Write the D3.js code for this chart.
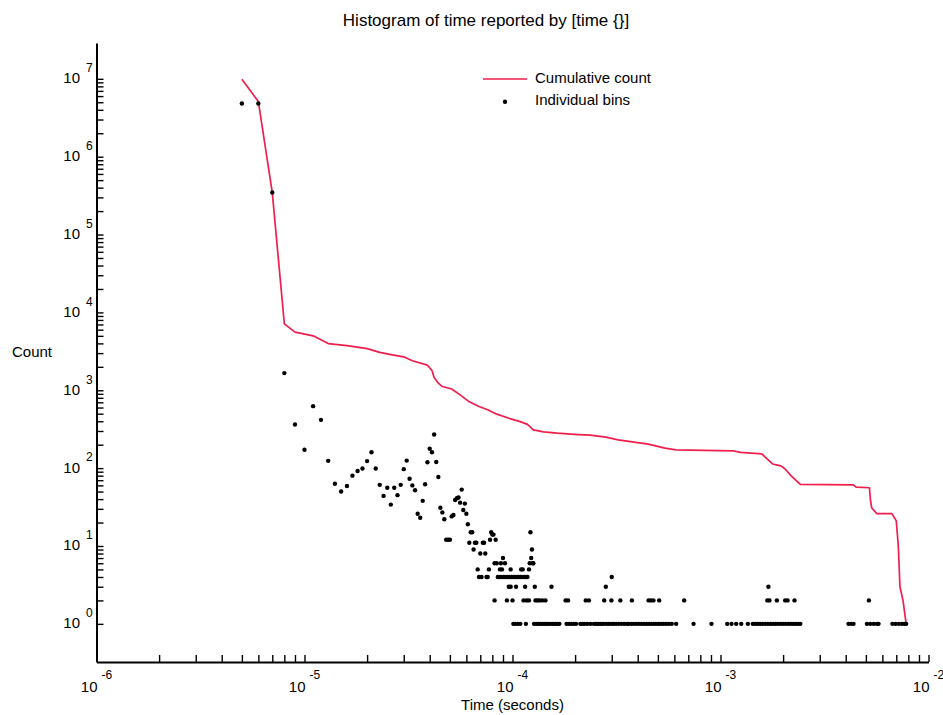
<!DOCTYPE html>
<html>
<head>
<meta charset="utf-8">
<script src="https://cdn.jsdelivr.net/npm/d3@7"></script>
<style>
  body { margin: 0; background: #fff; }
  text { font-family: "Liberation Sans", Arial, Helvetica, sans-serif; fill: #000; }
</style>
</head>
<body>
<div id="chart"></div>
<script>
// individual 1 microsecond bins, 5..67 us
const headUs = [5, 6, 7, 8, 9, 10, 11, 12, 13, 14, 15, 16, 17, 18, 19, 20, 21, 22, 23, 24, 25, 26, 27, 28, 29, 30,
  31, 32, 33, 34, 35, 36, 37, 38, 39, 40, 41, 42, 43, 44, 45, 46, 47, 48, 49, 50, 51, 52, 53, 54, 55, 56, 57, 58,
  59, 60, 61, 62, 63, 64, 65, 66, 67];
const headCount = [4820000, 4820000, 347000, 1660, 363, 172, 625, 417, 124, 63, 50, 59, 80, 92, 99, 123, 160, 99,
  61, 44, 56, 34, 56, 45, 61, 97, 125, 73, 60, 52, 26, 23, 38, 62, 119, 177, 160, 270, 120, 77, 31, 27, 22, 12, 12,
  12, 24, 25, 39, 41, 42, 36, 53, 29, 35, 26, 19, 11, 15, 15, 9, 11, 11];

// the sparse tail, bins (us) grouped by their count
const levelCounts = [1, 2, 3, 4, 5, 6, 7, 8, 9, 11, 12, 14, 15];
const levelUs = [
  [101, 103, 106, 109, 116, 127, 130, 133, 136, 139, 142, 145, 148, 151, 155, 158, 161, 164, 168, 182, 187, 192,
   197, 202, 212, 217, 222, 229, 237, 246, 252, 258, 264, 269, 275, 283, 290, 298, 306, 315, 324, 334, 344, 355,
   361, 372, 383, 394, 405, 417, 429, 441, 453, 465, 477, 489, 503, 517, 532, 548, 565, 583, 612, 742, 905, 1077,
   1130, 1190, 1258, 1354, 1430, 1470, 1510, 1550, 1590, 1640, 1690, 1740, 1790, 1840, 1890, 1950, 2000, 2060,
   2120, 2180, 2240, 2300, 2360, 2420, 4125, 4250, 4360, 5060, 5250, 5450, 5650, 5750, 6710, 6950, 7200, 7450,
   7650, 7810],
  [82, 94, 100, 113, 117, 120, 129, 132, 135, 139, 144, 180, 185, 225, 233, 276, 299, 330, 375, 451, 463, 476, 507,
   669, 1680, 1720, 1867, 2046, 2100, 2269, 5170],
  [96, 98, 104, 115, 128, 154, 281, 1700],
  [69, 71, 75, 76, 85, 87, 89, 91, 93, 95, 97, 99, 101, 103, 105, 107, 109, 111, 114, 116, 118, 300],
  [68, 77, 87, 89, 98, 110, 112, 120],
  [82, 84, 88, 92, 121, 125, 126],
  [90, 123],
  [70, 74],
  [124],
  [72, 73],
  [78, 83],
  [80, 81],
  [79, 122]
];

// cumulative count (samples at or above t)
const cumUs = [5, 6, 7, 8, 9, 11, 13, 16, 20, 23, 26, 30, 33, 39, 41, 42, 44, 46, 51, 56, 62, 69, 76, 84, 97, 109,
  118, 126, 141, 164, 207, 236, 281, 322, 449, 541, 611, 1140, 1251, 1580, 1660, 1780, 1950, 2040, 2180, 2420,
  4350, 4490, 5200, 5260, 5330, 5640, 6670, 7000, 7160, 7290, 7540, 7810];
const cumCount = [9900000, 5100000, 346000, 7130, 5575, 5000, 3980, 3750, 3430, 3070, 2875, 2686, 2390, 2100,
  1790, 1456, 1233, 1116, 1037, 873, 710, 618, 561, 493, 433, 396, 365, 310, 292, 281, 270, 266, 250, 231, 203,
  181, 172, 167, 159, 152, 134, 113, 107, 98, 80, 62, 61, 57, 56, 39, 31, 26, 26, 21, 10, 3, 2, 1];

const xDecades = [-6, -5, -4, -3, -2];
const yDecades = [0, 1, 2, 3, 4, 5, 6, 7];

const lineColor = "#f01e4d";
const margin = {top: 43, left: 96.5},
    width = 832,
    height = 619;

const svg = d3.select("#chart")
  .append("svg")
  .attr("width", 943)
  .attr("height", 715);

const g = svg.append("g")
  .attr("transform", `translate(${margin.left}, ${margin.top})`);

const x = d3.scaleLog()
  .domain([1e-6, 1e-2])
  .range([0, width]);

const y = d3.scaleLog()
  .domain([Math.pow(10, -0.49), Math.pow(10, 7.46)])
  .range([height, 0]);

// minor ticks 1..9 in every decade
const xTicks = [];
xDecades.slice(0, -1).forEach(d => { for (let m = 1; m <= 9; m++) xTicks.push(m * Math.pow(10, d)); });
xTicks.push(1e-2);
const yTicks = [];
yDecades.slice(0, -1).forEach(d => { for (let m = 1; m <= 9; m++) yTicks.push(m * Math.pow(10, d)); });
yTicks.push(1e7);

const xAxis = g.append("g")
  .attr("transform", `translate(0, ${height})`)
  .call(d3.axisBottom(x).tickValues(xTicks).tickSize(-7).tickSizeOuter(0).tickFormat(""));
const yAxis = g.append("g")
  .call(d3.axisLeft(y).tickValues(yTicks).tickSize(-7).tickSizeOuter(0).tickFormat(""));

[xAxis, yAxis].forEach(a => {
  a.select(".domain").attr("stroke", "#000").attr("stroke-width", 2);
  a.selectAll(".tick line").attr("stroke", "#000").attr("stroke-width", 1.4);
});

// power-of-ten labels
xDecades.forEach(d => {
  const px = x(Math.pow(10, d));
  g.append("text")
    .attr("x", px + 1)
    .attr("y", height + 30)
    .attr("text-anchor", "end")
    .style("font-size", "15px")
    .text("10");
  g.append("text")
    .attr("x", px + 5)
    .attr("y", height + 17)
    .style("font-size", "12px")
    .text(String(d));
});
yDecades.forEach(d => {
  const py = y(Math.pow(10, d));
  g.append("text")
    .attr("x", -16.5)
    .attr("y", py + 4.5)
    .attr("text-anchor", "end")
    .style("font-size", "15px")
    .text("10");
  g.append("text")
    .attr("x", -10.5)
    .attr("y", py - 6.7)
    .style("font-size", "12px")
    .text(String(d));
});

// cumulative line
const cumData = cumUs.map((t, i) => [t * 1e-6, cumCount[i]]);
g.append("path")
  .datum(cumData)
  .attr("fill", "none")
  .attr("stroke", lineColor)
  .attr("stroke-width", 1.7)
  .attr("stroke-linejoin", "round")
  .attr("d", d3.line().x(d => x(d[0])).y(d => y(d[1])));

// individual bins
const bins = headUs.map((t, i) => [t * 1e-6, headCount[i]]);
levelUs.forEach((list, i) => list.forEach(t => bins.push([t * 1e-6, levelCounts[i]])));

g.selectAll(".bin")
  .data(bins)
  .enter()
  .append("circle")
    .attr("class", "bin")
    .attr("cx", d => x(d[0]))
    .attr("cy", d => y(d[1]))
    .attr("r", 2.2)
    .attr("fill", "#000");

// titles
svg.append("text")
  .attr("x", 486)
  .attr("y", 26)
  .attr("text-anchor", "middle")
  .style("font-size", "17px")
  .text("Histogram of time reported by [time {}]");

svg.append("text")
  .attr("x", 12)
  .attr("y", 357)
  .style("font-size", "15px")
  .text("Count");

svg.append("text")
  .attr("x", margin.left + width / 2)
  .attr("y", 710)
  .attr("text-anchor", "middle")
  .style("font-size", "15px")
  .text("Time (seconds)");

// legend
const legend = svg.append("g");
legend.append("line")
  .attr("x1", 483).attr("x2", 527)
  .attr("y1", 79).attr("y2", 79)
  .attr("stroke", lineColor)
  .attr("stroke-width", 1.7);
legend.append("text")
  .attr("x", 535).attr("y", 83)
  .style("font-size", "15px")
  .text("Cumulative count");
legend.append("circle")
  .attr("cx", 505).attr("cy", 101.7)
  .attr("r", 2.2)
  .attr("fill", "#000");
legend.append("text")
  .attr("x", 535).attr("y", 105)
  .style("font-size", "15px")
  .text("Individual bins");
</script>
</body>
</html>
